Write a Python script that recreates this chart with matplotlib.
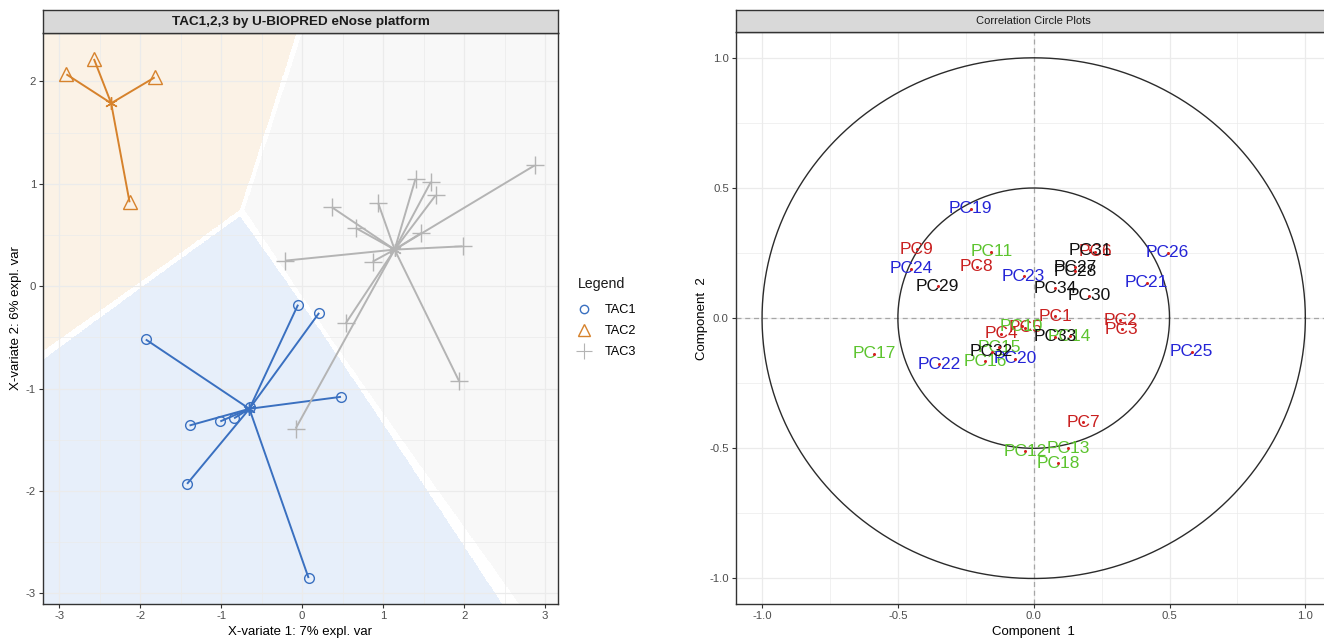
import numpy as np
import matplotlib
matplotlib.use("Agg")
import matplotlib.pyplot as plt
from matplotlib.lines import Line2D
from matplotlib.colors import to_rgb
from matplotlib.ticker import MultipleLocator, FormatStrFormatter

plt.rcParams['font.family'] = ['Liberation Sans', 'DejaVu Sans']
plt.rcParams['axes.unicode_minus'] = False

# ---------------- data: left panel (sample scores) ----------------
groups = ['TAC1', 'TAC2', 'TAC3']
tac1_x = [-0.05, 0.21, -1.93, 0.48, -1.39, -1.01, -0.84, -0.64, -1.42, 0.08]
tac1_y = [-0.18, -0.26, -0.52, -1.08, -1.36, -1.32, -1.29, -1.18, -1.93, -2.85]
tac2_x = [-2.91, -2.57, -1.82, -2.13]
tac2_y = [2.07, 2.22, 2.04, 0.82]
tac3_x = [2.87, 1.40, 1.59, 1.65, 0.37, 0.94, 0.66, 1.47, 1.98, -0.21, 0.87, 0.54, 1.94, -0.08]
tac3_y = [1.18, 1.05, 1.02, 0.89, 0.77, 0.81, 0.57, 0.52, 0.39, 0.25, 0.24, -0.36, -0.93, -1.39]

# ---------------- data: right panel (correlation circle) ----------------
pc_labels = ['PC1', 'PC2', 'PC3', 'PC4', 'PC5', 'PC6', 'PC7', 'PC8', 'PC9',
             'PC10', 'PC11', 'PC12', 'PC13', 'PC14', 'PC15', 'PC16', 'PC17', 'PC18',
             'PC19', 'PC20', 'PC21', 'PC22', 'PC23', 'PC24', 'PC25', 'PC26',
             'PC27', 'PC28', 'PC29', 'PC30', 'PC31', 'PC32', 'PC33', 'PC34']
pc_x = [0.080, 0.318, 0.324, -0.120, -0.032, 0.226, 0.183, -0.210, -0.431,
        -0.044, -0.156, -0.032, 0.127, 0.132, -0.128, -0.179, -0.587, 0.090,
        -0.232, -0.069, 0.416, -0.349, -0.037, -0.452, 0.581, 0.493,
        0.152, 0.152, -0.353, 0.205, 0.208, -0.155, 0.080, 0.078]
pc_y = [0.007, -0.008, -0.043, -0.060, -0.037, 0.256, -0.400, 0.198, 0.264,
        -0.031, 0.255, -0.511, -0.500, -0.070, -0.112, -0.165, -0.136, -0.558,
        0.420, -0.156, 0.136, -0.178, 0.160, 0.190, -0.129, 0.251,
        0.196, 0.181, 0.123, 0.087, 0.260, -0.130, -0.072, 0.114]
pc_block = [1] * 9 + [2] * 9 + [3] * 8 + [4] * 8
circle_radii = [1.0, 0.5]

# ---------------- styles ----------------
group_colors = ['#3a70c0', '#d6822c', '#b4b4b4']
region_colors = ['#e7effa', '#fbf2e6', '#f8f8f8']
group_markers = ['o', '^', '+']
group_msize = [7, 10, 13]
legend_msize = [6, 9, 12]
block_colors = {1: '#c92020', 2: '#5cc42e', 3: '#2424d6', 4: '#111111'}
GRID = '#ebebeb'
BORDER = '#333333'
TICKLAB = '#4d4d4d'

W, H = 1324, 641
fig = plt.figure(figsize=(W / 100, H / 100), dpi=100)


def px_axes(x0, x1, y0, y1):
    return fig.add_axes([x0 / W, 1 - y1 / H, (x1 - x0) / W, (y1 - y0) / H])


def strip(x0, x1, y0, y1, text, weight, size):
    s = px_axes(x0, x1, y0, y1)
    s.set_facecolor('#d9d9d9')
    s.set_xticks([])
    s.set_yticks([])
    for sp in s.spines.values():
        sp.set_color(BORDER)
        sp.set_linewidth(1.0)
    s.text(0.5, 0.48, text, ha='center', va='center', fontsize=size,
           fontweight=weight, color='#1a1a1a', transform=s.transAxes)


def style_axes(ax):
    ax.set_facecolor('white')
    for sp in ax.spines.values():
        sp.set_color(BORDER)
        sp.set_linewidth(1.0)
    ax.tick_params(which='major', length=3, width=0.8, color=BORDER,
                   labelsize=8.2, labelcolor=TICKLAB, pad=2)
    ax.tick_params(which='minor', length=0)
    ax.set_axisbelow(True)
    ax.grid(True, which='major', color=GRID, lw=0.9)
    ax.grid(True, which='minor', color=GRID, lw=0.5)


# ================= left panel =================
ax = px_axes(43, 558, 33, 604)
style_axes(ax)
xs_all = [tac1_x, tac2_x, tac3_x]
ys_all = [tac1_y, tac2_y, tac3_y]
centroids = [(np.mean(x), np.mean(y)) for x, y in zip(xs_all, ys_all)]

allx = np.concatenate([np.array(v) for v in xs_all])
ally = np.concatenate([np.array(v) for v in ys_all])
rx = allx.max() - allx.min()
ry = ally.max() - ally.min()
xlim = (allx.min() - 0.05 * rx, allx.max() + 0.05 * rx)
ylim = (ally.min() - 0.05 * ry, ally.max() + 0.05 * ry)

gx = np.linspace(xlim[0], xlim[1], 1000)
gy = np.linspace(ylim[0], ylim[1], 1000)
GX, GY = np.meshgrid(gx, gy)
D = np.stack([np.hypot(GX - cx, GY - cy) for cx, cy in centroids])
cls = np.argmin(D, axis=0)
Ds = np.sort(D, axis=0)
margin = Ds[1] - Ds[0]
rgb = np.array([to_rgb(c) for c in region_colors])[cls]
rgb[margin < 0.05] = 1.0
ax.imshow(rgb, extent=[xlim[0], xlim[1], ylim[0], ylim[1]], origin='lower',
          aspect='auto', interpolation='nearest', zorder=0)

for gi, (xv, yv) in enumerate(zip(xs_all, ys_all)):
    cx, cy = centroids[gi]
    col = group_colors[gi]
    for x, y in zip(xv, yv):
        ax.plot([cx, x], [cy, y], color=col, lw=1.4, zorder=2,
                solid_capstyle='butt')
    if group_markers[gi] == '+':
        ax.plot(xv, yv, linestyle='none', marker='+', ms=group_msize[gi],
                mew=1.0, color=col, zorder=3)
    else:
        ax.plot(xv, yv, linestyle='none', marker=group_markers[gi],
                ms=group_msize[gi], mew=1.0, mfc='none', mec=col, zorder=3)
    ax.plot([cx], [cy], linestyle='none', marker=(6, 2, 0), ms=9, mew=1.0,
            color=col, zorder=4)

ax.set_xlim(xlim)
ax.set_ylim(ylim)
ax.xaxis.set_major_locator(MultipleLocator(1))
ax.yaxis.set_major_locator(MultipleLocator(1))
ax.xaxis.set_minor_locator(MultipleLocator(0.5))
ax.yaxis.set_minor_locator(MultipleLocator(0.5))
ax.set_xlabel('X-variate 1: 7% expl. var', fontsize=9.5, labelpad=4)
ax.set_ylabel('X-variate 2: 6% expl. var', fontsize=9.5, labelpad=3)
strip(43, 558, 9.5, 33, 'TAC1,2,3 by U-BIOPRED eNose platform', 'bold', 9.7)

# legend (title drawn separately to match spacing)
fig.text(578 / W, 1 - 284 / H, 'Legend', fontsize=10.2, ha='left',
         va='center', color='#1a1a1a')
handles = []
for gi, g in enumerate(groups):
    if group_markers[gi] == '+':
        h = Line2D([], [], linestyle='none', marker='+', ms=legend_msize[gi],
                   mew=0.8, color=group_colors[gi])
    else:
        h = Line2D([], [], linestyle='none', marker=group_markers[gi],
                   ms=legend_msize[gi], mew=1.0, mfc='none',
                   mec=group_colors[gi])
    handles.append(h)
leg = fig.legend(handles, groups, loc='upper left',
                 bbox_to_anchor=(575 / W, 1 - 304 / H), frameon=False,
                 fontsize=9.2, handlelength=1.4, handletextpad=0.9,
                 labelspacing=0.72, borderaxespad=0, borderpad=0)

# ================= right panel =================
ax2 = px_axes(735.7, 1331.7, 32.3, 604)
style_axes(ax2)
t = np.linspace(0, 2 * np.pi, 400)
for r in circle_radii:
    ax2.plot(r * np.cos(t), r * np.sin(t), color='#2b2b2b', lw=1.0, zorder=2)
ax2.axhline(0, color='#a6a6a6', lw=0.9, ls=(0, (4, 3)), zorder=1.5)
ax2.axvline(0, color='#a6a6a6', lw=0.9, ls=(0, (4, 3)), zorder=1.5)
for lab, x, y, b in zip(pc_labels, pc_x, pc_y, pc_block):
    ax2.text(x, y, lab, color=block_colors[b], fontsize=12.5,
             ha='center', va='center', zorder=3)
    ax2.plot([x], [y], linestyle='none', marker='o', ms=1.2,
             color='#d62020', zorder=4)
ax2.set_xlim(-1.097, 1.097)
ax2.set_ylim(-1.098, 1.098)
ax2.xaxis.set_major_locator(MultipleLocator(0.5))
ax2.yaxis.set_major_locator(MultipleLocator(0.5))
ax2.xaxis.set_minor_locator(MultipleLocator(0.25))
ax2.yaxis.set_minor_locator(MultipleLocator(0.25))
ax2.xaxis.set_major_formatter(FormatStrFormatter('%.1f'))
ax2.yaxis.set_major_formatter(FormatStrFormatter('%.1f'))
ax2.set_xlabel('Component  1', fontsize=9.5, labelpad=4)
ax2.set_ylabel('Component  2', fontsize=9.5, labelpad=1)
strip(735.7, 1331.7, 9.5, 32.3, 'Correlation Circle Plots', 'normal', 8.0)

fig.savefig('out.png', dpi=100)
